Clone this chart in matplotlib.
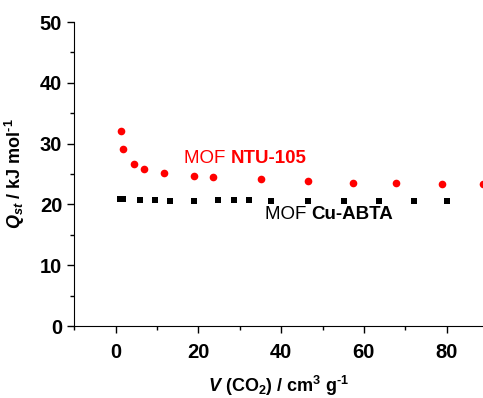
import matplotlib
matplotlib.use('Agg')
import matplotlib.pyplot as plt
from matplotlib.ticker import MultipleLocator

plt.rcParams['font.family'] = ['Liberation Sans', 'DejaVu Sans']
plt.rcParams['mathtext.fontset'] = 'custom'
plt.rcParams['mathtext.rm'] = 'Liberation Sans:bold'
plt.rcParams['mathtext.it'] = 'Liberation Sans:bold:italic'
plt.rcParams['mathtext.bf'] = 'Liberation Sans:bold'

# Data
ntu_x = [1.3, 1.85, 4.3, 6.9, 11.7, 18.9, 23.6, 35.2, 46.4, 57.3, 67.7, 79.0, 88.9]
ntu_y = [32.1, 29.1, 26.7, 25.8, 25.1, 24.6, 24.5, 24.1, 23.8, 23.6, 23.5, 23.4, 23.4]
abta_x = [1.0, 1.7, 5.95, 9.4, 13.1, 19.0, 24.8, 28.6, 32.3, 37.6, 46.5, 55.2, 63.7, 72.1, 80.2]
abta_y = [20.9, 20.9, 20.8, 20.7, 20.6, 20.6, 20.7, 20.7, 20.7, 20.6, 20.6, 20.6, 20.6, 20.6, 20.6]

fig = plt.figure(figsize=(4.83, 3.98), dpi=100)
ax = fig.add_axes([0.1532, 0.1809, 0.8468, 0.7638])

ax.plot(ntu_x, ntu_y, 'o', color='red', markersize=5.5, markeredgewidth=0)
ax.plot(abta_x, abta_y, 's', color='black', markersize=5, markeredgewidth=0)

# Series labels
t1 = ax.text(16.5, 27.6, 'MOF ', color='red', fontsize=13.5, va='center')
ax.annotate('NTU-105', xycoords=t1, xy=(1, 0.5), va='center', ha='left',
            color='red', fontsize=13.5, fontweight='bold')
t2 = ax.text(36.1, 18.4, 'MOF ', color='black', fontsize=13.5, va='center')
ax.annotate('Cu-ABTA', xycoords=t2, xy=(1, 0.5), va='center', ha='left',
            color='black', fontsize=13.5, fontweight='bold')

ax.set_xlim(-10.1, 88.8)
ax.set_ylim(0, 50)
ax.xaxis.set_major_locator(MultipleLocator(20))
ax.xaxis.set_minor_locator(MultipleLocator(10))
ax.yaxis.set_major_locator(MultipleLocator(10))
ax.yaxis.set_minor_locator(MultipleLocator(5))
ax.spines['top'].set_visible(False)
ax.spines['right'].set_visible(False)
ax.tick_params(which='major', direction='out', length=5, width=1, labelsize=14.5)
ax.tick_params(axis='x', which='major', pad=7)
ax.tick_params(which='minor', direction='out', length=3, width=1)
for lab in ax.get_xticklabels() + ax.get_yticklabels():
    lab.set_fontweight('bold')

ax.set_xlabel(r'$V$ (CO$_2$) / cm$^3$ g$^{\text{-1}}$', fontsize=13, fontweight='bold', labelpad=9)
ax.set_ylabel(r'$Q_{st}$ / kJ mol$^{\text{-1}}$', fontsize=13, fontweight='bold', labelpad=9)

fig.savefig('out.png', dpi=100)
